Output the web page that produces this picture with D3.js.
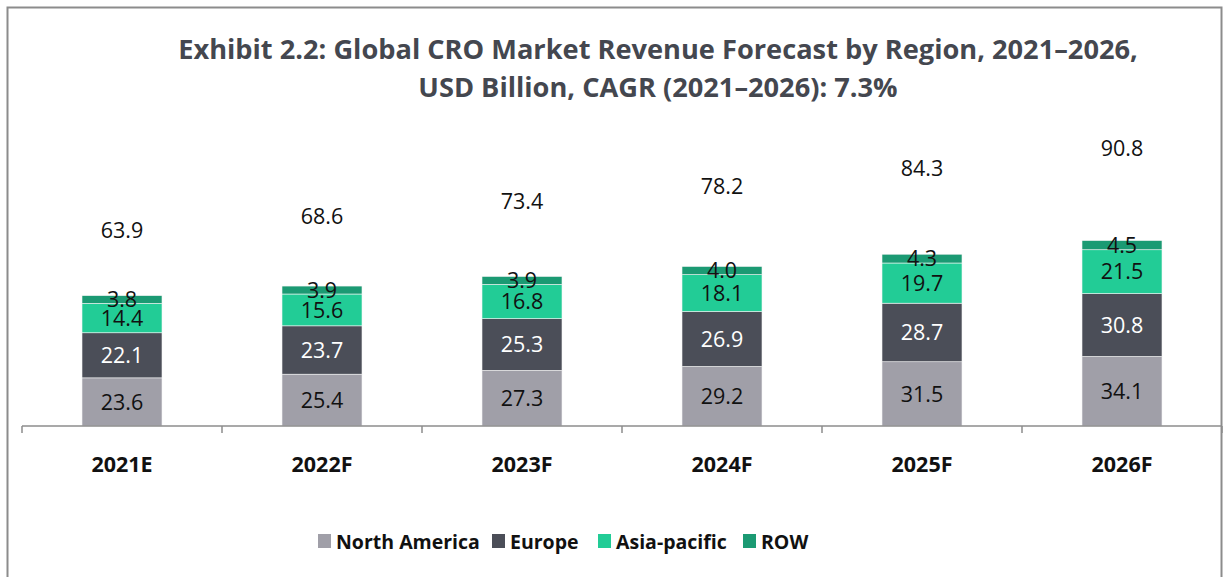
<!DOCTYPE html>
<html><head><meta charset="utf-8">
<script src="https://cdn.jsdelivr.net/npm/d3@7"></script>
<style>body{margin:0;background:#fff;} text{font-family:"Open Sans","Noto Sans",sans-serif;}</style>
</head><body>
<svg id="chart" width="1225" height="577"></svg>
<script>
const categories = ["2021E","2022F","2023F","2024F","2025F","2026F"];
const seriesNames = ["North America","Europe","Asia-pacific","ROW"];
const northAmerica = [23.6,25.4,27.3,29.2,31.5,34.1];
const europe = [22.1,23.7,25.3,26.9,28.7,30.8];
const asiaPacific = [14.4,15.6,16.8,18.1,19.7,21.5];
const row = [3.8,3.9,3.9,4.0,4.3,4.5];
const totals = [63.9,68.6,73.4,78.2,84.3,90.8];
const colors = ["#a09fa8","#4b4e58","#22cc96","#1b9a73"];
const labelColors = ["#111","#fff","#111","#111"];
const titleLines = ["Exhibit 2.2: Global CRO Market Revenue Forecast by Region, 2021\u20132026,","USD Billion, CAGR (2021\u20132026): 7.3%"];

const svg = d3.select("#chart");
// frame
svg.append("rect").attr("x",7.5).attr("y",7.5).attr("width",1214).attr("height",580)
  .attr("fill","none").attr("stroke","#8c8c8c").attr("stroke-width",2);

// title
const t1 = svg.append("text").attr("x",658).attr("y",59).attr("text-anchor","middle")
  .attr("font-weight","bold").attr("fill","#44474f").attr("font-size",26).text(titleLines[0]);
const w = t1.node().getComputedTextLength();
const fs = 26*960/w;
t1.attr("font-size",fs);
svg.append("text").attr("x",658).attr("y",97).attr("text-anchor","middle")
  .attr("font-weight","bold").attr("fill","#44474f").attr("font-size",fs).text(titleLines[1]);

const x = d3.scaleBand().domain(categories).range([22,1222]).paddingInner(0.6).paddingOuter(0.3);
const y = d3.scaleLinear().domain([0,100]).range([426,222]);

const data = categories.map((c,i)=>({cat:c,"North America":northAmerica[i],"Europe":europe[i],"Asia-pacific":asiaPacific[i],"ROW":row[i],total:totals[i]}));
const stacked = d3.stack().keys(seriesNames)(data);

stacked.forEach((s,si)=>{
  const g = svg.append("g");
  g.selectAll("rect").data(s).enter().append("rect")
    .attr("x",d=>x(d.data.cat)).attr("width",x.bandwidth())
    .attr("y",d=>y(d[1])).attr("height",d=>y(d[0])-y(d[1]))
    .attr("fill",colors[si]).attr("stroke","#f4f4f4").attr("stroke-width",0.6);
  g.selectAll("text").data(s).enter().append("text")
    .attr("x",d=>x(d.data.cat)+x.bandwidth()/2).attr("y",d=>y((d[0]+d[1])/2))
    .attr("dy","0.36em").attr("text-anchor","middle").attr("font-size",21.5)
    .attr("fill",labelColors[si]).text(d=>d3.format(".1f")(d[1]-d[0]));
});

// totals
svg.append("g").selectAll("text").data(data).enter().append("text")
  .attr("x",d=>x(d.cat)+x.bandwidth()/2).attr("y",d=>y(d.total*1.5))
  .attr("dy","0.36em").attr("text-anchor","middle").attr("font-size",21.5).attr("fill","#111")
  .text(d=>d3.format(".1f")(d.total));

// axis
svg.append("line").attr("x1",22).attr("x2",1222).attr("y1",426).attr("y2",426)
  .attr("stroke","#8c8c8c").attr("stroke-width",1.5);
svg.append("g").selectAll("line").data(d3.range(0,7)).enter().append("line")
  .attr("x1",d=>22+d*200).attr("x2",d=>22+d*200).attr("y1",426).attr("y2",433)
  .attr("stroke","#8c8c8c").attr("stroke-width",1.5);
svg.append("g").selectAll("text").data(categories).enter().append("text")
  .attr("x",d=>x(d)+x.bandwidth()/2).attr("y",472).attr("text-anchor","middle")
  .attr("font-weight","bold").attr("font-size",21.5).attr("fill","#111").text(d=>d);

// legend
const legendX = [318,492,598,743];
const lg = svg.append("g");
seriesNames.forEach((n,i)=>{
  lg.append("rect").attr("x",legendX[i]).attr("y",534).attr("width",13).attr("height",14).attr("fill",colors[i]);
  lg.append("text").attr("x",legendX[i]+18).attr("y",549).attr("font-weight","bold")
    .attr("font-size",19.5).attr("fill","#111").text(n);
});
</script>
</body></html>
